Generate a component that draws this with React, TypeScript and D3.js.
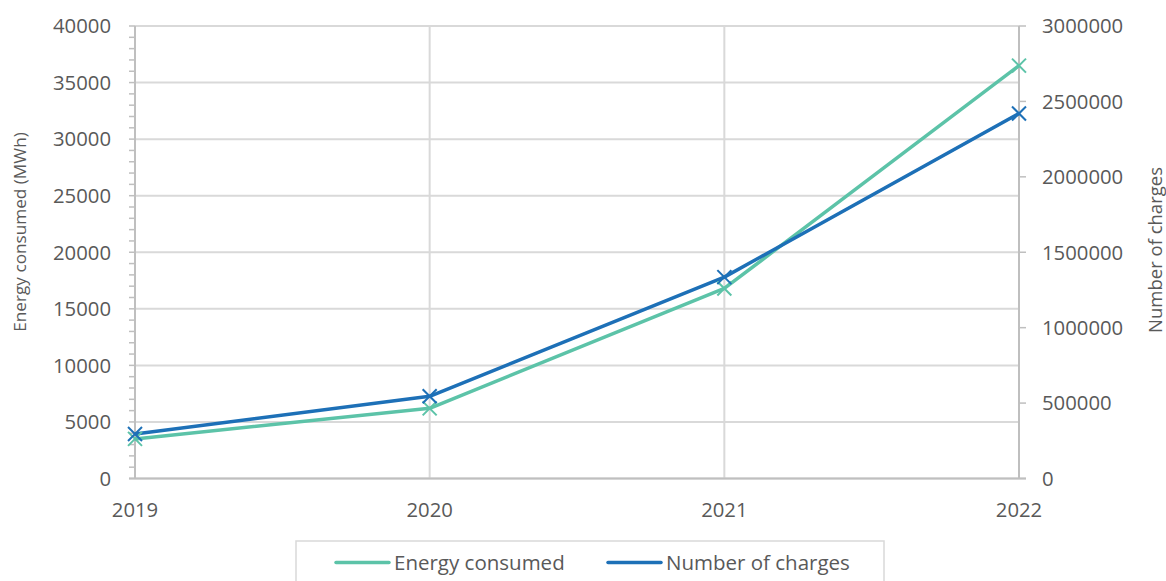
import React from "react";
import * as d3 from "d3";

const years = ["2019", "2020", "2021", "2022"];
const energy = [3500, 6200, 16800, 36500];
const charges = [295000, 545000, 1335000, 2420000];
const leftTicks = [0, 5000, 10000, 15000, 20000, 25000, 30000, 35000, 40000];
const rightTicks = [0, 500000, 1000000, 1500000, 2000000, 2500000, 3000000];

const W = 1166, H = 581;
const L = 135, R = 1019, T = 26, B = 478.5;
const GREEN = "#5cc3a8";
const BLUE = "#1d70b7";
const TXT = "#595959";
const FONT = "'Open Sans', sans-serif";
const FS = 20.3;

export default function App() {
  const x = d3.scalePoint<string>().domain(years).range([L, R]);
  const yL = d3.scaleLinear().domain([0, 40000]).range([B, T]);
  const yR = d3.scaleLinear().domain([0, 3000000]).range([B, T]);
  const lineE = d3.line<number>().x((_, i) => x(years[i])!).y(d => yL(d));
  const lineC = d3.line<number>().x((_, i) => x(years[i])!).y(d => yR(d));
  const minor = d3.range(0, 40001, 1000);
  const m = 7;
  const cross = (cx: number, cy: number, c: string, k: string) => (
    <g key={k} stroke={c} strokeWidth={2}>
      <line x1={cx - m} y1={cy - m} x2={cx + m} y2={cy + m} />
      <line x1={cx - m} y1={cy + m} x2={cx + m} y2={cy - m} />
    </g>
  );
  return (
    <svg width={W} height={H} style={{ position: "absolute", left: 0, top: 0 }} fontFamily={FONT}>
      <rect width={W} height={H} fill="#fff" />
      {leftTicks.map(t => (
        <line key={"g" + t} x1={L} x2={R} y1={yL(t)} y2={yL(t)} stroke="#d9d9d9" strokeWidth={2} />
      ))}
      {years.map(yv => (
        <line key={"v" + yv} x1={x(yv)} x2={x(yv)} y1={T} y2={B} stroke="#d9d9d9" strokeWidth={2} />
      ))}
      {/* left axis */}
      <line x1={L} x2={L} y1={T} y2={B} stroke="#bfbfbf" strokeWidth={2} />
      {minor.map(t => (
        <line key={"m" + t} x1={L - 6} x2={L} y1={yL(t)} y2={yL(t)} stroke="#bfbfbf" strokeWidth={1.5} />
      ))}
      {/* right axis */}
      <line x1={R} x2={R} y1={T} y2={B} stroke="#bfbfbf" strokeWidth={2} />
      {rightTicks.map(t => (
        <line key={"r" + t} x1={R} x2={R + 7} y1={yR(t)} y2={yR(t)} stroke="#bfbfbf" strokeWidth={1.5} />
      ))}
      <line x1={L - 6} x2={R + 7} y1={B} y2={B} stroke="#bfbfbf" strokeWidth={2} />
      {leftTicks.map(t => (
        <text key={"lt" + t} x={L - 24} y={yL(t)} dy="0.36em" textAnchor="end" fontSize={FS} fill={TXT}>{t}</text>
      ))}
      {rightTicks.map(t => (
        <text key={"rt" + t} x={R + 23} y={yR(t)} dy="0.36em" textAnchor="start" fontSize={FS} fill={TXT}>{t}</text>
      ))}
      {years.map(yv => (
        <text key={"x" + yv} x={x(yv)} y={517} textAnchor="middle" fontSize={FS} fill={TXT}>{yv}</text>
      ))}
      <text transform={`translate(26,232) rotate(-90)`} textAnchor="middle" fontSize={17.2} fill={TXT}>Energy consumed (MWh)</text>
      <text transform={`translate(1162,250) rotate(-90)`} textAnchor="middle" fontSize={18.5} fill={TXT}>Number of charges</text>
      <path d={lineE(energy)!} fill="none" stroke={GREEN} strokeWidth={3.5} strokeLinejoin="round" />
      <path d={lineC(charges)!} fill="none" stroke={BLUE} strokeWidth={3.5} strokeLinejoin="round" />
      {energy.map((v, i) => cross(x(years[i])!, yL(v), GREEN, "ce" + i))}
      {charges.map((v, i) => cross(x(years[i])!, yR(v), BLUE, "cc" + i))}
      {/* legend */}
      <rect x={296} y={541} width={588} height={60} fill="#fff" stroke="#d9d9d9" strokeWidth={1.5} />
      <line x1={336} x2={389} y1={562.5} y2={562.5} stroke={GREEN} strokeWidth={3.5} strokeLinecap="round" />
      <text x={394} y={562.5} dy="0.36em" fontSize={20.5} fill={TXT}>Energy consumed</text>
      <line x1={608} x2={661} y1={562.5} y2={562.5} stroke={BLUE} strokeWidth={3.5} strokeLinecap="round" />
      <text x={666} y={562.5} dy="0.36em" fontSize={20.5} fill={TXT}>Number of charges</text>
    </svg>
  );
}
